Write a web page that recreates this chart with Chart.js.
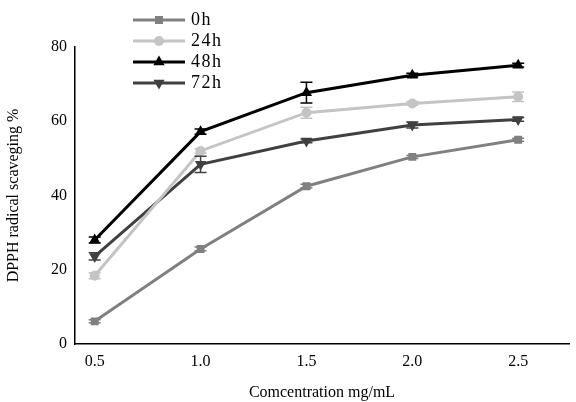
<!DOCTYPE html>
<html><head><meta charset="utf-8">
<script src="https://cdn.jsdelivr.net/npm/chart.js@4"></script>
<style>html,body{margin:0;background:#fff}#c{display:block}</style>
</head><body>
<div style="width:576px;height:402px"><canvas id="c"></canvas></div>
<script>
// data
const concentrations = [0.5, 1.0, 1.5, 2.0, 2.5];
const h0 = [6.1, 25.6, 42.5, 50.4, 55.0];
const h24 = [18.4, 52.0, 62.3, 64.8, 66.6];
const h48 = [28.0, 57.2, 67.7, 72.4, 75.1];
const h72 = [23.6, 48.4, 54.7, 59.0, 60.5];
const err0 = [0.4, 0.5, 0.5, 0.4, 0.4];
const err24 = [0.8, 0.6, 1.5, 0.5, 1.3];
const err48 = [0.8, 0.7, 2.8, 0.5, 0.5];
const err72 = [1.0, 2.2, 0.5, 0.8, 0.5];
const seriesNames = ['0h', '24h', '48h', '72h'];

const serif = '"Liberation Serif", "DejaVu Serif", serif';

function makeSet(label, vals, errs, color, style, rot) {
    return {
        label: label,
        data: concentrations.map((x, i) => ({x: x, y: vals[i]})),
        errors: errs,
        borderColor: color,
        backgroundColor: color,
        borderWidth: 3,
        pointStyle: style,
        pointRotation: rot || 0,
        pointRadius: 3.5,
        tension: 0
    };
}

// error bars + legend drawn by hand
const extras = {
    id: 'extras',
    afterDatasetsDraw(chart) {
        const ctx = chart.ctx, xs = chart.scales.x, ys = chart.scales.y;
        ctx.save();
        chart.data.datasets.forEach(ds => {
            ctx.strokeStyle = ds.borderColor;
            ctx.lineWidth = 1.5;
            ds.data.forEach((p, i) => {
                const e = ds.errors[i];
                const px = xs.getPixelForValue(p.x);
                const y1 = ys.getPixelForValue(p.y + e), y2 = ys.getPixelForValue(p.y - e);
                ctx.beginPath();
                ctx.moveTo(px, y1); ctx.lineTo(px, y2);
                ctx.moveTo(px - 6, y1); ctx.lineTo(px + 6, y1);
                ctx.moveTo(px - 6, y2); ctx.lineTo(px + 6, y2);
                ctx.stroke();
            });
        });
        // legend
        ctx.font = '18px ' + serif;
        ctx.letterSpacing = '1.5px';
        ctx.textBaseline = 'middle';
        chart.data.datasets.forEach((ds, i) => {
            const y = 20 + i * 21;
            ctx.strokeStyle = ds.borderColor;
            ctx.fillStyle = ds.borderColor;
            ctx.lineWidth = 3;
            ctx.beginPath(); ctx.moveTo(133, y); ctx.lineTo(185, y); ctx.stroke();
            Chart.helpers.drawPoint(ctx, {pointStyle: ds.pointStyle, rotation: ds.pointRotation, radius: 3.5, borderWidth: 1}, 159, y);
            ctx.fillStyle = '#000';
            ctx.fillText(ds.label, 191, y);
        });
        ctx.restore();
    }
};

new Chart(document.getElementById('c'), {
    type: 'line',
    data: {
        datasets: [
            makeSet(seriesNames[0], h0, err0, '#808080', 'rect'),
            makeSet(seriesNames[1], h24, err24, '#c4c4c4', 'circle'),
            makeSet(seriesNames[2], h48, err48, '#000000', 'triangle'),
            makeSet(seriesNames[3], h72, err72, '#404040', 'triangle', 180)
        ]
    },
    options: {
        animation: false,
        responsive: true,
        maintainAspectRatio: false,
        layout: {padding: {top: 47, right: 0}},
        plugins: {legend: {display: false}, tooltip: {enabled: false}},
        scales: {
            x: {
                type: 'linear',
                min: 0.407, max: 2.74,
                afterBuildTicks: s => { s.ticks = [0.5, 0.75, 1.0, 1.25, 1.5, 1.75, 2.0, 2.25, 2.5].map(v => ({value: v})); },
                grid: {display: false, drawTicks: true, tickLength: 5, tickColor: '#000'},
                border: {color: '#000', width: 1.5},
                ticks: {
                    color: '#000', font: {family: serif, size: 16}, maxRotation: 0, autoSkip: false,
                    callback: v => (v * 2) % 1 === 0 ? v.toFixed(1) : ''
                },
                title: {display: true, text: 'Comcentration mg/mL', color: '#000', font: {family: serif, size: 16}, padding: {top: 8, bottom: 0}},
                afterFit: s => { s.height = 58; }
            },
            y: {
                min: 0, max: 80,
                afterBuildTicks: s => { s.ticks = [0, 10, 20, 30, 40, 50, 60, 70, 80].map(v => ({value: v})); },
                grid: {display: false, drawTicks: true, tickLength: 5, tickColor: '#000'},
                border: {color: '#000', width: 1.5},
                ticks: {
                    color: '#000', font: {family: serif, size: 16}, autoSkip: false,
                    callback: v => v % 20 === 0 ? v : ''
                },
                title: {display: true, text: 'DPPH radical scaveging %', color: '#000', font: {family: serif, size: 16}, padding: {bottom: 4}},
                afterFit: s => { s.width = 75; }
            }
        }
    },
    plugins: [extras]
});
</script>
</body></html>
